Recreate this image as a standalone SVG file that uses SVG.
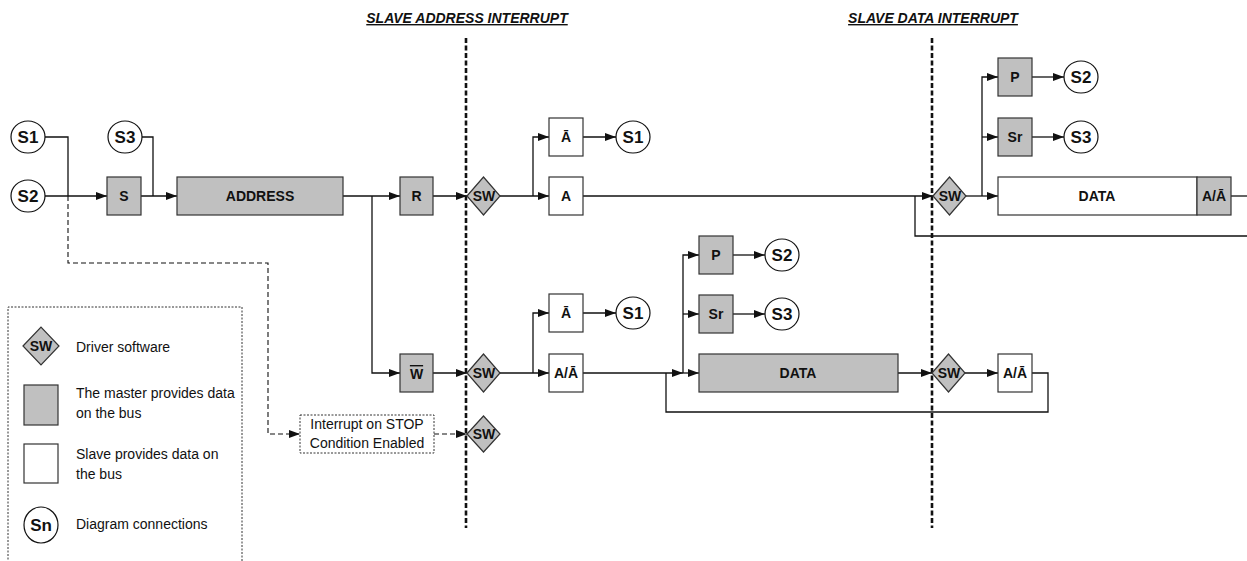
<svg xmlns="http://www.w3.org/2000/svg" width="1247" height="561" viewBox="0 0 1247 561">
<style>
  .m{fill:#c0c0c0;stroke:#333;stroke-width:1.2}
  .s{fill:#fff;stroke:#333;stroke-width:1.2}
  .c{fill:#fff;stroke:#111;stroke-width:1.2}
  .d{fill:#c0c0c0;stroke:#333;stroke-width:1.2}
  .lb{font-family:"Liberation Sans",Arial,sans-serif;font-weight:bold;font-size:14px;fill:#111;text-anchor:middle;dominant-baseline:central}
  .cl{font-family:"Liberation Sans",Arial,sans-serif;font-weight:bold;font-size:17px;fill:#111;text-anchor:middle;dominant-baseline:central}
  .tx{font-family:"Liberation Sans",Arial,sans-serif;font-size:14px;fill:#111}
  .hd{font-family:"Liberation Sans",Arial,sans-serif;font-weight:bold;font-style:italic;font-size:14px;fill:#111;text-anchor:middle;text-decoration:underline}
  .ln{fill:none;stroke:#111;stroke-width:1.3}
  .ar{marker-end:url(#ah)}
  .dsh{fill:none;stroke:#111;stroke-width:1.1;stroke-dasharray:5,3}
  .sep{fill:none;stroke:#111;stroke-width:2.6;stroke-dasharray:5,2.5}
  .dot{fill:#fff;stroke:#333;stroke-width:1;stroke-dasharray:2,1.5}
</style>
<defs>
  <marker id="ah" markerWidth="11" markerHeight="8" refX="11" refY="4" orient="auto" markerUnits="userSpaceOnUse">
    <path d="M0,0 L11,4 L0,8 z" fill="#111"/>
  </marker>
</defs>

<!-- headings & separators -->
<g id="headings">
  <text class="hd" x="467" y="23">SLAVE ADDRESS INTERRUPT</text>
  <text class="hd" x="933" y="23">SLAVE DATA INTERRUPT</text>
  <line class="sep" x1="466" y1="38" x2="466" y2="528"/>
  <line class="sep" x1="932" y1="38" x2="932" y2="528"/>
</g>

<!-- connectors -->
<g id="connectors">
  <path class="ln" d="M45,137 H68 V196"/>
  <path class="dsh ar" d="M68,196 V263 H268 V434 H300"/>
  <path class="ln ar" d="M45,196 H107"/>
  <path class="ln" d="M142,137 H153 V196"/>
  <path class="ln ar" d="M141,196 H177"/>
  <path class="ln ar" d="M343,196 H400"/>
  <path class="ln ar" d="M372,196 V373 H400"/>
  <path class="ln ar" d="M433,196 H467"/>
  <path class="ln ar" d="M500,196 H549"/>
  <path class="ln ar" d="M533,196 V137 H549"/>
  <path class="ln ar" d="M583,137 H616"/>
  <path class="ln ar" d="M583,196 H933"/>
  <path class="ln" d="M1247,236 H915 V196"/>
  <path class="ln ar" d="M966,196 H998"/>
  <path class="ln ar" d="M982,196 V77 H998"/>
  <path class="ln ar" d="M982,137 H998"/>
  <path class="ln ar" d="M1032,77 H1064"/>
  <path class="ln ar" d="M1032,137 H1064"/>
  <path class="ln" d="M1231,196 H1247"/>

  <path class="ln ar" d="M433,373 H467"/>
  <path class="ln ar" d="M500,373 H549"/>
  <path class="ln ar" d="M533,373 V313 H549"/>
  <path class="ln ar" d="M583,313 H616"/>
  <path class="ln ar" d="M583,373 H683"/>
  <path class="ln ar" d="M683,373 H699"/>
  <path class="ln ar" d="M683,373 V255 H699"/>
  <path class="ln ar" d="M683,314 H699"/>
  <path class="ln ar" d="M733,255 H765"/>
  <path class="ln ar" d="M733,314 H765"/>
  <path class="ln ar" d="M898,373 H932"/>
  <path class="ln ar" d="M965,373 H998"/>
  <path class="ln" d="M1032,373 H1048 V412 H666 V373"/>
  <path class="dsh ar" d="M434,434 H467"/>
</g>

<!-- top row nodes -->
<g id="n-s1"><ellipse class="c" cx="28" cy="137" rx="17" ry="16"/><text class="cl" x="28" y="137">S1</text></g>
<g id="n-s2"><ellipse class="c" cx="28" cy="196" rx="17" ry="16"/><text class="cl" x="28" y="196">S2</text></g>
<g id="n-s3"><ellipse class="c" cx="125" cy="137" rx="17" ry="16"/><text class="cl" x="125" y="137">S3</text></g>
<g id="n-start"><rect class="m" x="107" y="177" width="34" height="38"/><text class="lb" x="124" y="196">S</text></g>
<g id="n-address"><rect class="m" x="177" y="177" width="166" height="38"/><text class="lb" x="260" y="196">ADDRESS</text></g>
<g id="n-r"><rect class="m" x="400" y="177" width="33" height="38"/><text class="lb" x="416.5" y="196">R</text></g>
<g id="n-sw1"><path class="d" d="M467,196 L483.5,177 L500,196 L483.5,215 z"/><text class="lb" x="484" y="196">SW</text></g>
<g id="n-nack1"><rect class="s" x="549" y="118" width="34" height="38"/><text class="lb" x="566" y="137">Ā</text></g>
<g id="n-s1b"><ellipse class="c" cx="633" cy="137" rx="17" ry="16"/><text class="cl" x="633" y="137">S1</text></g>
<g id="n-ack1"><rect class="s" x="549" y="177" width="34" height="38"/><text class="lb" x="566" y="196">A</text></g>
<g id="n-sw2"><path class="d" d="M933,196 L949.5,177 L966,196 L949.5,215 z"/><text class="lb" x="950" y="196">SW</text></g>
<g id="n-p1"><rect class="m" x="998" y="58" width="34" height="38"/><text class="lb" x="1015" y="77">P</text></g>
<g id="n-s2b"><ellipse class="c" cx="1081" cy="77" rx="17" ry="16"/><text class="cl" x="1081" y="77">S2</text></g>
<g id="n-sr1"><rect class="m" x="998" y="118" width="34" height="38"/><text class="lb" x="1015" y="137">Sr</text></g>
<g id="n-s3b"><ellipse class="c" cx="1081" cy="137" rx="17" ry="16"/><text class="cl" x="1081" y="137">S3</text></g>
<g id="n-data1"><rect class="s" x="998" y="177" width="199" height="38"/><text class="lb" x="1097" y="196">DATA</text></g>
<g id="n-ack2"><rect class="m" x="1197" y="177" width="34" height="38"/><text class="lb" x="1214" y="196">A/Ā</text></g>

<!-- bottom row nodes -->
<g id="n-w"><rect class="m" x="400" y="354" width="33" height="38"/><text class="lb" x="416.5" y="374"><tspan text-decoration="overline">W</tspan></text></g>
<g id="n-sw3"><path class="d" d="M467,373 L483.5,354 L500,373 L483.5,392 z"/><text class="lb" x="484" y="373">SW</text></g>
<g id="n-nack2"><rect class="s" x="549" y="294" width="34" height="38"/><text class="lb" x="566" y="313">Ā</text></g>
<g id="n-s1c"><ellipse class="c" cx="633" cy="313" rx="17" ry="16"/><text class="cl" x="633" y="313">S1</text></g>
<g id="n-ack3"><rect class="s" x="549" y="354" width="34" height="38"/><text class="lb" x="566" y="373">A/Ā</text></g>
<g id="n-p2"><rect class="m" x="699" y="236" width="34" height="38"/><text class="lb" x="716" y="255">P</text></g>
<g id="n-s2c"><ellipse class="c" cx="782" cy="255" rx="17" ry="16"/><text class="cl" x="782" y="255">S2</text></g>
<g id="n-sr2"><rect class="m" x="699" y="295" width="34" height="38"/><text class="lb" x="716" y="314">Sr</text></g>
<g id="n-s3c"><ellipse class="c" cx="782" cy="314" rx="17" ry="16"/><text class="cl" x="782" y="314">S3</text></g>
<g id="n-data2"><rect class="m" x="699" y="354" width="199" height="38"/><text class="lb" x="798" y="373">DATA</text></g>
<g id="n-sw4"><path class="d" d="M932,373 L948.5,354 L965,373 L948.5,392 z"/><text class="lb" x="949" y="373">SW</text></g>
<g id="n-ack4"><rect class="s" x="998" y="354" width="34" height="38"/><text class="lb" x="1015" y="373">A/Ā</text></g>
<g id="n-stop"><rect class="dot" x="300" y="415" width="134" height="38"/><text class="tx" x="367" y="429" text-anchor="middle">Interrupt on STOP</text><text class="tx" x="367" y="448" text-anchor="middle">Condition Enabled</text></g>
<g id="n-sw5"><path class="d" d="M467,434 L483.5,416 L500,434 L483.5,452 z"/><text class="lb" x="484" y="434">SW</text></g>

<!-- legend -->
<g id="legend">
  <path class="dot" d="M8,570 V307 H242 V570" fill="none"/>
  <path class="d" d="M23,346 L41,327 L59,346 L41,365 z"/><text class="lb" x="41" y="346">SW</text>
  <text class="tx" x="76" y="352">Driver software</text>
  <rect class="m" x="24" y="385" width="34" height="40"/>
  <text class="tx" x="76" y="398">The master provides data</text>
  <text class="tx" x="76" y="418">on the bus</text>
  <rect class="s" x="24" y="444" width="34" height="39"/>
  <text class="tx" x="76" y="459">Slave provides data on</text>
  <text class="tx" x="76" y="479">the bus</text>
  <ellipse class="c" cx="41" cy="525" rx="17" ry="18"/><text class="cl" x="41" y="525">Sn</text>
  <text class="tx" x="76" y="529">Diagram connections</text>
</g>
</svg>
